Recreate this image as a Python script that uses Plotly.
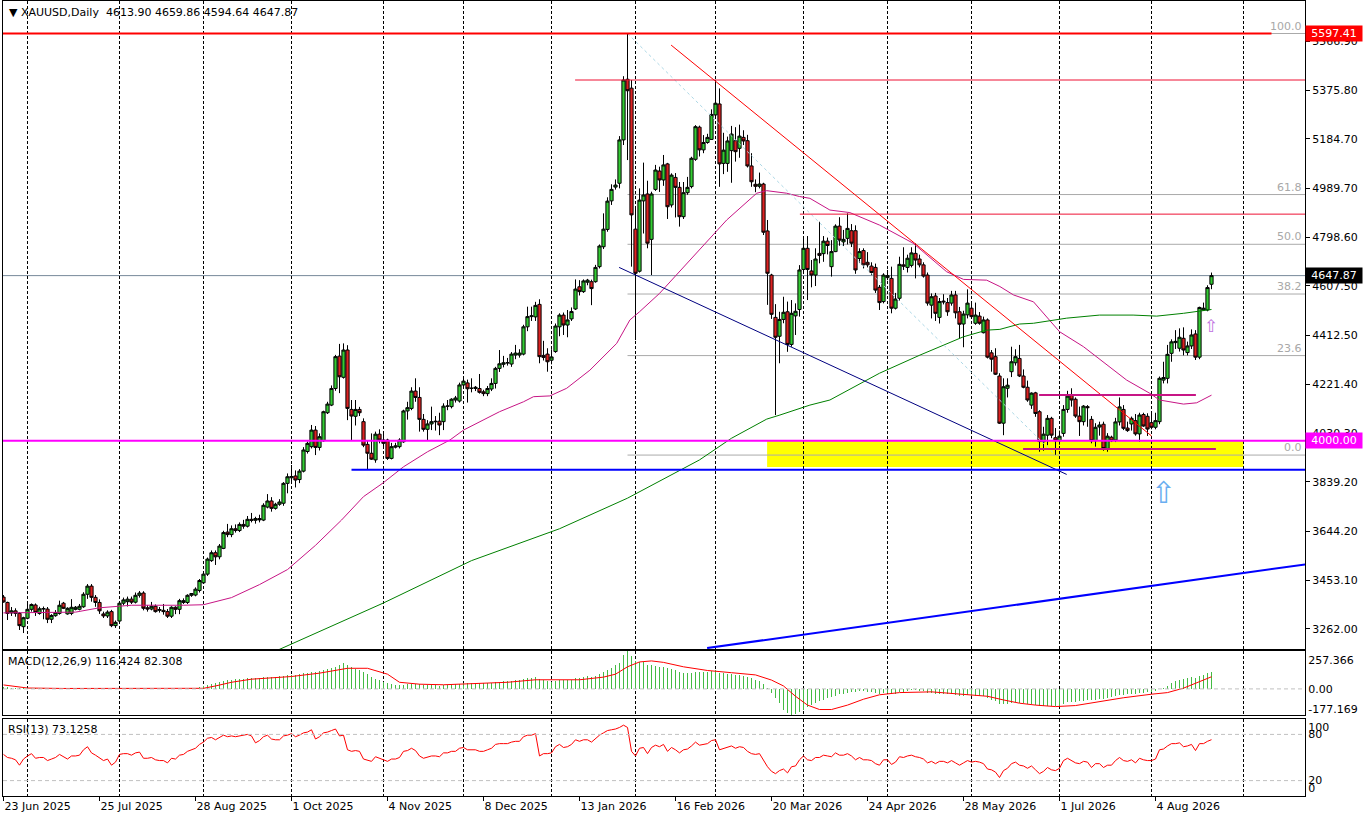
from __future__ import annotations

import plotly.graph_objects as go

# ---------------------------------------------------------------------
# Data: XAUUSD daily bars
# (bar 0 = 23 Jun 2025, one value per trading day)
# ---------------------------------------------------------------------
OPEN = [
    3387, 3366, 3325, 3333, 3323, 3271, 3304, 3339, 3356, 3323,
    3340, 3340, 3300, 3314, 3323, 3363, 3321, 3323, 3339, 3339,
    3349, 3398, 3430, 3386, 3366, 3321, 3313, 3330, 3275, 3293,
    3363, 3369, 3379, 3367, 3394, 3403, 3345, 3340, 3351, 3335,
    3335, 3330, 3312, 3347, 3339, 3366, 3366, 3394, 3395, 3413,
    3443, 3477, 3530, 3561, 3545, 3578, 3642, 3632, 3655, 3648,
    3672, 3665, 3692, 3688, 3695, 3689, 3740, 3764, 3735, 3751,
    3755, 3833, 3855, 3862, 3848, 3881, 3958, 3977, 4042, 3974,
    4000, 4110, 4140, 4205, 4332, 4249, 4356, 4123, 4096, 4123,
    4075, 3986, 3951, 3925, 4026, 4003, 4003, 3931, 3975, 3977,
    3996, 4117, 4127, 4195, 4170, 4084, 4045, 4066, 4077, 4077,
    4075, 4136, 4134, 4160, 4156, 4219, 4227, 4206, 4205, 4205,
    4192, 4185, 4203, 4225, 4284, 4300, 4306, 4301, 4336, 4336,
    4340, 4447, 4487, 4486, 4535, 4335, 4340, 4316, 4350, 4447,
    4493, 4454, 4478, 4517, 4604, 4585, 4622, 4624, 4624, 4683,
    4761, 4829, 4941, 4995, 5010, 5180, 5418, 5383, 4830, 4665,
    4941, 4968, 4790, 4986, 5058, 5023, 5086, 4925, 5033, 4994,
    4879, 4973, 4997, 5104, 5230, 5141, 5170, 5182, 5278, 5321,
    5088, 5088, 5138, 5177, 5147, 5190, 5177, 5078, 5006, 4998,
    5007, 4823, 4650, 4484, 4410, 4476, 4506, 4378, 4490, 4515,
    4672, 4755, 4666, 4650, 4735, 4734, 4783, 4683, 4742, 4842,
    4780, 4794, 4824, 4824, 4715, 4746, 4700, 4685, 4680, 4602,
    4546, 4640, 4637, 4520, 4559, 4690, 4680, 4688, 4735, 4713,
    4690, 4650, 4532, 4568, 4484, 4548, 4542, 4540, 4572, 4506,
    4458, 4494, 4520, 4461, 4489, 4424, 4474, 4345, 4330, 4254,
    4069, 4206, 4271, 4306, 4323, 4254, 4210, 4140, 4188, 4114,
    3996, 4022, 4088, 4012, 4000, 4029, 4123, 4180, 4163, 4097,
    4075, 4134, 4084, 4000, 4054, 4065, 3970, 4014, 4003, 4074,
    4123, 4050, 4066, 4079, 4027, 4103, 4096, 4071, 4053, 4075,
    4238, 4245, 4343, 4385, 4363, 4402, 4346, 4372, 4419, 4328,
    4513, 4513, 4613.90,
]
HIGH = [
    3395, 3369, 3348, 3343, 3328, 3310, 3367, 3362, 3362, 3349,
    3350, 3348, 3320, 3336, 3373, 3368, 3347, 3379, 3352, 3360,
    3406, 3438, 3438, 3395, 3378, 3330, 3335, 3337, 3295, 3369,
    3385, 3389, 3389, 3405, 3411, 3410, 3355, 3368, 3358, 3348,
    3360, 3340, 3351, 3351, 3380, 3382, 3398, 3403, 3425, 3458,
    3489, 3542, 3570, 3570, 3595, 3647, 3674, 3668, 3672, 3680,
    3690, 3705, 3717, 3702, 3710, 3755, 3791, 3779, 3757, 3771,
    3838, 3872, 3905, 3884, 3889, 3975, 3997, 4062, 4058, 4029,
    4118, 4153, 4217, 4337, 4380, 4382, 4375, 4160, 4160, 4133,
    4088, 4003, 4029, 4036, 4045, 4029, 4008, 3992, 3992, 4010,
    4122, 4153, 4210, 4245, 4210, 4105, 4081, 4134, 4097, 4110,
    4147, 4160, 4167, 4176, 4228, 4251, 4240, 4245, 4215, 4262,
    4200, 4215, 4245, 4290, 4356, 4333, 4325, 4348, 4376, 4359,
    4455, 4526, 4526, 4545, 4555, 4392, 4363, 4359, 4460, 4500,
    4503, 4513, 4523, 4633, 4630, 4633, 4635, 4632, 4690, 4770,
    4892, 4955, 5006, 5025, 5195, 5430, 5597.41, 5415, 4915, 4990,
    5091, 5020, 4977, 5082, 5075, 5121, 5090, 5049, 5050, 5015,
    5015, 5035, 5114, 5238, 5236, 5199, 5204, 5300, 5415, 5382,
    5208, 5193, 5235, 5230, 5240, 5218, 5200, 5128, 5025, 5052,
    5012, 4866, 4655, 4536, 4506, 4565, 4546, 4552, 4539, 4689,
    4803, 4803, 4709, 4755, 4859, 4803, 4797, 4787, 4849, 4877,
    4827, 4892, 4850, 4845, 4755, 4755, 4740, 4700, 4695, 4611,
    4657, 4670, 4683, 4580, 4722, 4759, 4730, 4759, 4774, 4730,
    4700, 4660, 4578, 4580, 4560, 4575, 4560, 4588, 4588, 4525,
    4510, 4594, 4546, 4542, 4505, 4487, 4480, 4356, 4363, 4265,
    4245, 4245, 4369, 4359, 4376, 4280, 4236, 4190, 4192, 4120,
    4055, 4101, 4094, 4050, 4040, 4140, 4196, 4206, 4170, 4134,
    4140, 4140, 4097, 4069, 4075, 4075, 4030, 4020, 4090, 4170,
    4140, 4075, 4095, 4105, 4110, 4110, 4108, 4110, 4110, 4252,
    4310, 4376, 4398, 4434, 4441, 4445, 4389, 4437, 4434, 4526,
    4542, 4610, 4659.86,
]
LOW = [
    3365, 3297, 3313, 3310, 3258, 3246, 3300, 3330, 3313, 3318,
    3300, 3285, 3285, 3310, 3318, 3340, 3318, 3316, 3335, 3335,
    3345, 3380, 3369, 3349, 3321, 3305, 3305, 3269, 3266, 3286,
    3355, 3350, 3360, 3362, 3385, 3335, 3330, 3335, 3326, 3326,
    3318, 3305, 3305, 3320, 3320, 3360, 3360, 3388, 3390, 3405,
    3440, 3470, 3525, 3513, 3535, 3575, 3622, 3622, 3640, 3642,
    3655, 3660, 3680, 3675, 3680, 3685, 3735, 3722, 3730, 3745,
    3745, 3794, 3840, 3817, 3834, 3876, 3950, 3970, 3944, 3962,
    3996, 4105, 4136, 4196, 4187, 4244, 4081, 4003, 4060, 4097,
    3975, 3888, 3925, 3914, 3990, 3977, 3925, 3927, 3970, 3970,
    3992, 4083, 4120, 4153, 4036, 4036, 4000, 4042, 4040, 4022,
    4042, 4120, 4127, 4150, 4150, 4205, 4150, 4190, 4195, 4185,
    4175, 4175, 4195, 4205, 4270, 4288, 4295, 4290, 4320, 4326,
    4335, 4430, 4470, 4470, 4304, 4315, 4271, 4300, 4345, 4410,
    4415, 4406, 4470, 4513, 4570, 4580, 4610, 4532, 4620, 4676,
    4752, 4820, 4925, 4985, 4990, 5160, 5101, 4683, 4395, 4660,
    4813, 4755, 4650, 4980, 4976, 5000, 4870, 4915, 4876, 4840,
    4870, 4965, 4990, 5098, 5115, 5128, 5165, 5180, 5272, 4996,
    5046, 5055, 5012, 5095, 5110, 5160, 5072, 4996, 4975, 4990,
    4807, 4533, 4478, 4101, 4304, 4461, 4349, 4369, 4415, 4487,
    4654, 4552, 4602, 4607, 4696, 4702, 4731, 4644, 4740, 4765,
    4764, 4770, 4760, 4655, 4697, 4676, 4680, 4650, 4580, 4513,
    4539, 4630, 4500, 4515, 4550, 4670, 4660, 4680, 4637, 4680,
    4640, 4530, 4480, 4470, 4460, 4535, 4490, 4530, 4480, 4402,
    4367, 4480, 4480, 4455, 4455, 4421, 4323, 4271, 4258, 4066,
    4022, 4170, 4250, 4295, 4250, 4206, 4153, 4125, 4094, 3957,
    3961, 3983, 4010, 3944, 3985, 4016, 4110, 4134, 4090, 4019,
    4060, 4055, 3990, 3977, 4020, 3961, 3957, 3995, 3995, 4060,
    4042, 4035, 4040, 4020, 3996, 4055, 4019, 4045, 4045, 4065,
    4225, 4225, 4310, 4360, 4350, 4335, 4335, 4360, 4317, 4320,
    4510, 4508, 4594.64,
]
CLOSE = [
    3368, 3323, 3333, 3323, 3275, 3306, 3339, 3358, 3327, 3341,
    3342, 3300, 3315, 3326, 3355, 3343, 3343, 3347, 3347, 3351,
    3398, 3430, 3386, 3366, 3333, 3313, 3328, 3275, 3288, 3363,
    3376, 3379, 3367, 3394, 3403, 3343, 3340, 3351, 3330, 3338,
    3330, 3312, 3347, 3339, 3373, 3373, 3394, 3401, 3418, 3452,
    3477, 3536, 3561, 3545, 3587, 3640, 3632, 3655, 3648, 3672,
    3665, 3692, 3688, 3695, 3690, 3747, 3764, 3735, 3751, 3760,
    3833, 3859, 3860, 3846, 3881, 3964, 3990, 4042, 3974, 4016,
    4114, 4144, 4205, 4330, 4251, 4356, 4127, 4097, 4123, 4110,
    3983, 3951, 3928, 4026, 4003, 3990, 3931, 3977, 3980, 4003,
    4117, 4130, 4195, 4170, 4084, 4045, 4066, 4075, 4075, 4062,
    4136, 4136, 4163, 4168, 4219, 4234, 4204, 4206, 4210, 4190,
    4185, 4205, 4225, 4284, 4302, 4306, 4306, 4340, 4344, 4344,
    4447, 4487, 4490, 4531, 4330, 4327, 4310, 4329, 4450, 4493,
    4454, 4474, 4507, 4595, 4585, 4627, 4630, 4597, 4680, 4764,
    4830, 4940, 4986, 5003, 5180, 5415, 5373, 4886, 4657, 4944,
    4964, 4775, 4968, 5062, 5023, 5082, 4918, 5042, 4994, 4879,
    4973, 4994, 5108, 5232, 5141, 5170, 5190, 5280, 5324, 5086,
    5140, 5176, 5203, 5134, 5195, 5176, 5078, 5016, 4998, 5007,
    4818, 4657, 4496, 4406, 4476, 4504, 4378, 4500, 4508, 4670,
    4755, 4672, 4650, 4713, 4727, 4783, 4766, 4742, 4842, 4787,
    4790, 4833, 4775, 4670, 4742, 4690, 4690, 4660, 4591, 4542,
    4650, 4648, 4520, 4556, 4692, 4685, 4716, 4737, 4709, 4690,
    4646, 4540, 4565, 4500, 4546, 4545, 4506, 4572, 4502, 4457,
    4497, 4540, 4487, 4493, 4461, 4474, 4328, 4320, 4261, 4069,
    4212, 4218, 4310, 4330, 4254, 4210, 4160, 4187, 4107, 3997,
    4026, 4088, 4022, 4000, 4018, 4123, 4175, 4160, 4097, 4075,
    4136, 4130, 4000, 4053, 4062, 3970, 4018, 4000, 4074, 4133,
    4049, 4040, 4088, 4027, 4101, 4058, 4046, 4053, 4079, 4245,
    4248, 4339, 4388, 4390, 4406, 4356, 4372, 4415, 4328, 4523,
    4520, 4601, 4647.87,
]

# moving averages, sampled along the drawn lines (bar index, price)
MA50_BARS = [0, 10, 18, 24, 32, 45, 50, 57, 64, 71, 78, 84.5, 90, 95, 100,
             106, 111.6, 115, 120, 124, 130, 132.5, 136.6, 140.8, 146.6,
             153.3, 156.6, 159, 164, 172.4, 180.8, 188.3, 190.8, 195.8, 199,
             201.6, 206.6, 211.6, 219, 227.4, 235.8, 240, 245.8, 249.1,
             252.5, 257.5, 264, 270, 274, 280.8, 286.6, 289, 295, 298.3, 302]
MA50_VALUES = [3325, 3327, 3328, 3345, 3355, 3355, 3357, 3385, 3436, 3495,
               3590, 3689, 3781, 3836, 3898, 3957, 4003, 4042, 4081, 4114,
               4153, 4173, 4176, 4206, 4277, 4382, 4474, 4506, 4578, 4722,
               4866, 4971, 4981, 4971, 4958, 4951, 4905, 4895, 4846, 4775,
               4663, 4633, 4630, 4605, 4572, 4545, 4428, 4369, 4320, 4238,
               4186, 4160, 4144, 4149, 4179]
MA200_BARS = [68, 95, 117, 139, 156, 174, 182, 190.8, 194.1, 201.6, 206.6,
              219, 229.1, 240, 245.8, 249.1, 254, 257.5, 265.8, 274, 282.4,
              288.3, 295, 302]
MA200_VALUES = [3175, 3364, 3530, 3655, 3775, 3925, 4010, 4085, 4101, 4140,
                4160, 4265, 4336, 4408, 4434, 4437, 4458, 4461, 4481, 4493,
                4493, 4489, 4500, 4515]

# MACD(12,26,9): histogram one value per bar, signal sampled along the line
MACD_HIST = [
    12, 10, 8, 7, 4, 3, 3, 4, 3, 3,
    3, 2, 1, 1, 2, 2, 2, 2, 3, 3,
    5, 8, 8, 6, 4, 2, 1, -2, -3, 0,
    2, 3, 4, 4, 5, 3, 2, 1, 0, -1,
    -1, -2, -1, 0, 1, 2, 4, 5, 7, 12,
    18, 26, 34, 40, 47, 55, 59, 62, 64, 66,
    68, 71, 73, 75, 77, 80, 82, 83, 84, 85,
    88, 92, 95, 97, 100, 105, 110, 116, 118, 120,
    127, 133, 140, 150, 163, 177, 165, 150, 138, 125,
    113, 98, 80, 68, 58, 48, 40, 33, 28, 26,
    28, 30, 34, 36, 33, 28, 26, 25, 24, 23,
    26, 28, 30, 32, 36, 40, 40, 40, 40, 38,
    37, 38, 40, 45, 50, 52, 53, 56, 58, 59,
    66, 73, 77, 82, 70, 60, 52, 48, 55, 60,
    60, 61, 63, 72, 77, 82, 85, 84, 90, 100,
    115, 130, 145, 160, 178, 230, 257.366, 225, 190, 185,
    180, 162, 160, 158, 152, 150, 140, 133, 125, 115,
    110, 105, 108, 115, 115, 113, 114, 120, 125, 110,
    105, 102, 100, 95, 93, 90, 82, 72, 62, 55,
    35, 5, -30, -65, -95, -140, -165, -177.169, -172, -160,
    -140, -125, -112, -98, -85, -72, -62, -55, -45, -38,
    -32, -25, -22, -20, -17, -17, -18, -20, -26, -32,
    -30, -28, -33, -32, -22, -18, -14, -10, -10, -12,
    -16, -26, -30, -35, -36, -36, -38, -36, -40, -46,
    -48, -44, -45, -45, -47, -50, -62, -72, -82, -100,
    -100, -100, -95, -92, -95, -98, -103, -103, -108, -118,
    -118, -113, -113, -115, -113, -103, -92, -86, -86, -85,
    -80, -77, -78, -72, -66, -66, -60, -56, -48, -40,
    -40, -38, -33, -33, -27, -25, -23, -18, -14, -3,
    5, 22, 40, 55, 62, 66, 72, 78, 75, 90,
    95, 105, 116.424,
]
SIGNAL_BARS = [0, 6, 15, 25, 35, 47, 50, 53, 57, 62, 66, 72, 79, 86, 91, 96,
               99, 104, 110, 118, 126, 133, 138, 144, 150, 153, 156, 159,
               162, 165, 170, 176, 182, 188, 192, 195, 198, 201, 204, 207,
               211, 215, 219, 224, 232, 240, 246, 250, 254, 258, 263, 268,
               274, 280, 287, 291, 295, 299, 302]
SIGNAL_VALUES = [27, 6, 3, 4, 3, 1, 4, 20, 45, 66, 72, 84, 107, 140, 140, 100,
                 45, 32, 28, 35, 45, 62, 63, 62, 80, 100, 150, 183,
                 190, 180, 150, 125, 110, 95, 60, 20, -50, -110, -140, -140,
                 -110, -70, -40, -25, -20, -35, -50, -75, -97, -110, -120, -113,
                 -85, -60, -36, -25, 5, 50, 82.308]

# RSI(13), one value per bar
RSI = [
    54, 50, 49, 47, 40, 48, 52, 55, 49, 50,
    50, 46, 48, 50, 54, 51, 48, 52, 52, 53,
    60, 64, 56, 53, 49, 46, 48, 40, 44, 54,
    55, 55, 53, 56, 57, 49, 49, 50, 47, 46,
    46, 43, 49, 48, 53, 54, 58, 60, 62, 67,
    70, 75, 76, 73, 76, 79, 77, 78, 77, 78,
    79, 80, 78, 69, 72, 77, 79, 74, 73, 73,
    78, 79, 81, 77, 79, 82, 83, 86, 74, 77,
    82, 83, 85, 87, 78, 79, 60, 58, 59, 58,
    48, 46, 45, 51, 49, 48, 45, 48, 48, 50,
    58, 59, 62, 59, 52, 49, 51, 52, 52, 51,
    56, 56, 58, 58, 62, 63, 60, 60, 60, 58,
    58, 60, 62, 67, 68, 68, 68, 70, 71, 71,
    77, 79, 79, 81, 52, 55, 55, 56, 64, 67,
    63, 64, 67, 73, 71, 73, 73, 70, 75, 79,
    82, 85, 86, 87, 89, 92, 89, 58, 52, 62,
    63, 55, 63, 66, 64, 67, 58, 63, 60, 56,
    60, 61, 65, 70, 66, 67, 68, 72, 73, 60,
    62, 64, 65, 62, 64, 63, 58, 55, 54, 55,
    47, 38, 32, 29, 33, 35, 30, 38, 39, 47,
    52, 47, 46, 50, 50, 53, 52, 51, 56, 53,
    53, 55, 52, 47, 50, 47, 47, 46, 42, 40,
    47, 47, 41, 44, 51, 50, 52, 53, 51, 50,
    48, 43, 45, 42, 45, 45, 43, 46, 43, 40,
    43, 46, 44, 45, 44, 42, 35, 34, 31, 24,
    33, 36, 42, 44, 40, 39, 36, 39, 34, 29,
    32, 37, 34, 33, 36, 46, 49, 46, 43, 42,
    45, 44, 37, 42, 42, 37, 40, 40, 46, 50,
    46, 45, 47, 43, 49, 47, 46, 46, 48, 60,
    61, 65, 68, 68, 69, 64, 65, 67, 59, 68,
    68, 71, 73.1258,
]

# axis ticks
DATE_TICK_BARS = [0, 24, 48, 72, 96, 120, 144, 168, 192, 216, 240, 264, 288]
DATE_TICK_LABELS = ["23 Jun 2025", "25 Jul 2025", "28 Aug 2025", "1 Oct 2025",
                    "4 Nov 2025", "8 Dec 2025", "13 Jan 2026", "16 Feb 2026",
                    "20 Mar 2026", "24 Apr 2026", "28 May 2026", "1 Jul 2026",
                    "4 Aug 2026"]
MONTH_GRID_BARS = [6, 29, 50, 72, 95, 115, 137, 158, 178, 200, 221, 242, 264,
                   287, 310]
PRICE_TICKS = [5566.90, 5375.80, 5184.70, 4989.70, 4798.60, 4607.50, 4412.50,
               4221.40, 4030.30, 3839.20, 3644.20, 3453.10, 3262.00]

# analyst objects drawn on the chart
FIB_HIGH, FIB_LOW = 5597.41, 3944.0
FIB_BARS = [156, 263]
FIB_LEVELS = [100.0, 61.8, 50.0, 38.2, 23.6, 0.0]
DOWN_TREND_BARS, DOWN_TREND_PRICES = [166.9, 287.0], [5552.0, 4019.0]
CHANNEL_BARS, CHANNEL_PRICES = [153.9, 265.8], [4680.0, 3868.0]
UP_TREND_BARS, UP_TREND_PRICES = [175.9, 325.4], [3187.0, 3515.0]
RESISTANCE_PRICES, RESISTANCE_START_BARS = [5415.0, 4889.0], [142.9, 199.1]
SUPPORT_PRICE, SUPPORT_START_BAR = 3886.0, 87
ROUND_LEVEL = 4000.0
ZONE_BARS, ZONE_PRICES = [190.9, 310], [3897.0, 4000.0]
RANGE_TOP = (4180.0, 258.9, 298.1)
RANGE_BOTTOM = (3968.0, 254.9, 303.1)
TOP_LINE_END_BAR = 317
LAST_PRICE = 4647.87

# ---------------------------------------------------------------------
# Style
# ---------------------------------------------------------------------
WIDTH, HEIGHT = 1370, 820
FONT = "DejaVu Sans"
UP_COLOR, DOWN_COLOR = "#33CC33", "#DD2222"
X_RANGE = [-0.125, 325.375]
PRICE_RANGE = [3183.4, 5724.9]
MACD_RANGE = [-177.169, 257.366]
RSI_RANGE = [0, 100]
PRICE_DOMAIN = [0.18491, 1.0]
MACD_DOMAIN = [0.10189, 0.18239]
RSI_DOMAIN = [0.0, 0.09686]
GRID_DASH = "3px,2px"
# the page is photographed from its top-left corner: drop the default body margin
PAGE_SCRIPT = "document.body.style.margin = '0px';"


def _hline(y, x0, x1, color, width=1, dash="solid", yref="y", layer="above"):
    return dict(type="line", xref="x", yref=yref, x0=x0, x1=x1, y0=y, y1=y,
                line=dict(color=color, width=width, dash=dash), layer=layer)


def _price_tag(text, price, bg):
    return dict(xref="paper", x=1, xanchor="left", yref="y", y=price,
                yanchor="middle", text=text, showarrow=False, bgcolor=bg,
                borderpad=1, width=54, align="center",
                font=dict(family=FONT, size=11, color="white"))


def build_figure() -> go.Figure:
    bars = list(range(len(CLOSE)))
    x_right = X_RANGE[1]
    fig = go.Figure()

    # --- price panel -------------------------------------------------
    fig.add_trace(go.Candlestick(
        x=bars, open=OPEN, high=HIGH, low=LOW, close=CLOSE,
        increasing=dict(fillcolor=UP_COLOR, line=dict(color="black", width=1)),
        decreasing=dict(fillcolor=DOWN_COLOR, line=dict(color="black", width=1)),
        showlegend=False, hoverinfo="skip", xaxis="x", yaxis="y",
    ))
    fig.add_trace(go.Scatter(x=MA50_BARS, y=MA50_VALUES, mode="lines",
                             line=dict(color="#C71585", width=1),
                             showlegend=False, hoverinfo="skip"))
    fig.add_trace(go.Scatter(x=MA200_BARS, y=MA200_VALUES, mode="lines",
                             line=dict(color="#008000", width=1),
                             showlegend=False, hoverinfo="skip"))
    fig.add_trace(go.Scatter(x=FIB_BARS, y=[FIB_HIGH, FIB_LOW], mode="lines",
                             line=dict(color="#ADD8E6", width=1, dash="dot"),
                             showlegend=False, hoverinfo="skip"))
    fig.add_trace(go.Scatter(x=DOWN_TREND_BARS, y=DOWN_TREND_PRICES, mode="lines",
                             line=dict(color="#FF0000", width=1),
                             showlegend=False, hoverinfo="skip"))
    fig.add_trace(go.Scatter(x=CHANNEL_BARS, y=CHANNEL_PRICES, mode="lines",
                             line=dict(color="#000080", width=1),
                             showlegend=False, hoverinfo="skip"))
    fig.add_trace(go.Scatter(x=UP_TREND_BARS, y=UP_TREND_PRICES, mode="lines",
                             line=dict(color="#0000FF", width=2),
                             showlegend=False, hoverinfo="skip"))

    # --- MACD panel --------------------------------------------------
    fig.add_trace(go.Bar(x=bars, y=MACD_HIST, width=0.25, marker_color="#44BB44",
                         marker_line_width=0, showlegend=False,
                         hoverinfo="skip", xaxis="x2", yaxis="y2"))
    fig.add_trace(go.Scatter(x=SIGNAL_BARS, y=SIGNAL_VALUES, mode="lines",
                             line=dict(color="#FF0000", width=1),
                             showlegend=False, hoverinfo="skip",
                             xaxis="x2", yaxis="y2"))

    # --- RSI panel ---------------------------------------------------
    fig.add_trace(go.Scatter(x=bars, y=RSI, mode="lines",
                             line=dict(color="#FF0000", width=1),
                             showlegend=False, hoverinfo="skip",
                             xaxis="x3", yaxis="y3"))

    # --- chart objects -----------------------------------------------
    shapes = [
        dict(type="rect", xref="x", yref="y", x0=ZONE_BARS[0], x1=ZONE_BARS[1],
             y0=ZONE_PRICES[0], y1=ZONE_PRICES[1], fillcolor="#FFFF00",
             line=dict(width=0), layer="below"),
    ]
    fib_span = FIB_HIGH - FIB_LOW
    for lvl in FIB_LEVELS:
        shapes.append(_hline(FIB_LOW + fib_span * lvl / 100.0, FIB_BARS[0],
                             x_right, "#AAAAAA", layer="below"))
    shapes.append(_hline(LAST_PRICE, X_RANGE[0], x_right, "#778899", layer="below"))
    shapes.append(_hline(FIB_HIGH, X_RANGE[0], TOP_LINE_END_BAR, "#FF0000", width=2))
    for price, start in zip(RESISTANCE_PRICES, RESISTANCE_START_BARS):
        shapes.append(_hline(price, start, x_right, "#EE1133"))
    shapes.append(_hline(ROUND_LEVEL, X_RANGE[0], x_right, "#FF00FF", width=2))
    shapes.append(_hline(SUPPORT_PRICE, SUPPORT_START_BAR, x_right, "#0000FF", width=2))
    for price, x0, x1 in (RANGE_TOP, RANGE_BOTTOM):
        shapes.append(_hline(price, x0, x1, "#C71585", width=2))
    # indicator reference levels
    shapes.append(_hline(0, X_RANGE[0], x_right, "#C0C0C0", dash="4px,3px",
                         yref="y2"))
    for lvl in (80, 20):
        shapes.append(_hline(lvl, X_RANGE[0], x_right, "#C0C0C0",
                             dash="4px,3px", yref="y3"))

    annotations = [
        dict(xref="paper", yref="paper", x=0, y=1, xanchor="left", yanchor="top",
             xshift=4, yshift=-3, showarrow=False,
             text="\u25bc XAUUSD,Daily\u00a0\u00a04613.90 4659.86 4594.64 4647.87",
             font=dict(family=FONT, size=11, color="black")),
        dict(xref="paper", yref="paper", x=0, y=MACD_DOMAIN[1], xanchor="left",
             yanchor="top", xshift=3, yshift=-2, showarrow=False,
             text="MACD(12,26,9) 116.424 82.308",
             font=dict(family=FONT, size=11, color="black")),
        dict(xref="paper", yref="paper", x=0, y=RSI_DOMAIN[1], xanchor="left",
             yanchor="top", xshift=3, yshift=-2, showarrow=False,
             text="RSI(13) 73.1258",
             font=dict(family=FONT, size=11, color="black")),
        # signal arrows
        dict(xref="x", yref="y", x=289.9, y=3799, showarrow=False, text="\u21e7",
             font=dict(family=FONT, size=30, color="#6AAEF0")),
        dict(xref="x", yref="y", x=301.9, y=4449, showarrow=False, text="\u21e7",
             font=dict(family=FONT, size=17, color="#C070E0")),
    ]
    for lvl in FIB_LEVELS:
        annotations.append(dict(
            xref="paper", x=1, xanchor="right", xshift=-1, yref="y",
            y=FIB_LOW + fib_span * lvl / 100.0, yanchor="bottom", yshift=-1,
            text=f"{lvl:.1f}", showarrow=False,
            font=dict(family=FONT, size=11, color="#A8A8A8")))
    annotations += [
        _price_tag("5597.41", FIB_HIGH, "#FF0000"),
        _price_tag(f"{LAST_PRICE:.2f}", LAST_PRICE, "#000000"),
        _price_tag(f"{ROUND_LEVEL:.2f}", ROUND_LEVEL, "#FF00FF"),
    ]

    # --- axes --------------------------------------------------------
    frame = dict(showline=True, linecolor="black", linewidth=1, mirror=True,
                 zeroline=False, fixedrange=True, automargin=False)
    grid_x = dict(range=X_RANGE, tickmode="array", tickvals=MONTH_GRID_BARS,
                  showticklabels=False, ticks="", showgrid=True,
                  gridcolor="black", gridwidth=1, griddash=GRID_DASH, **frame)
    tickfont = dict(family=FONT, size=11, color="black")

    fig.update_layout(
        template="none",
        width=WIDTH, height=HEIGHT,
        margin=dict(l=3, r=65, t=1, b=24, autoexpand=False),
        paper_bgcolor="white", plot_bgcolor="white",
        font=dict(family=FONT, size=11, color="black"),
        showlegend=False, hovermode=False, dragmode=False,
        boxgap=0.2, boxgroupgap=0, bargap=0,
        xaxis=dict(domain=[0, 1], anchor="y", rangeslider=dict(visible=False),
                   **grid_x),
        xaxis2=dict(domain=[0, 1], anchor="y2", matches="x", **grid_x),
        xaxis3=dict(domain=[0, 1], anchor="y3", matches="x", range=X_RANGE,
                    tickmode="array", tickvals=DATE_TICK_BARS,
                    ticktext=DATE_TICK_LABELS, ticks="outside", ticklen=4,
                    tickcolor="black", ticklabelposition="outside right",
                    tickfont=tickfont, showgrid=False,
                    minor=dict(tickmode="array", tickvals=MONTH_GRID_BARS,
                               showgrid=True, gridcolor="black", gridwidth=1,
                               griddash=GRID_DASH, ticks=""),
                    **frame),
        yaxis=dict(domain=PRICE_DOMAIN, anchor="x", side="right",
                   range=PRICE_RANGE, tickmode="array", tickvals=PRICE_TICKS,
                   ticktext=[f"{v:.2f}" for v in PRICE_TICKS], ticks="outside",
                   ticklen=4, tickcolor="black", tickfont=tickfont,
                   showgrid=False, **frame),
        yaxis2=dict(domain=MACD_DOMAIN, anchor="x2", side="right",
                    range=MACD_RANGE, tickmode="array",
                    tickvals=[196, 0, -136],
                    ticktext=["257.366", "0.00", "-177.169"], ticks="",
                    tickfont=tickfont, showgrid=False, **frame),
        yaxis3=dict(domain=RSI_DOMAIN, anchor="x3", side="right",
                    range=RSI_RANGE, tickmode="array",
                    tickvals=[89.2, 80, 20, 10],
                    ticktext=["100", "80", "20", "0"], ticks="",
                    tickfont=tickfont, showgrid=False, **frame),
        shapes=shapes,
        annotations=annotations,
    )
    return fig


if __name__ == "__main__":
    fig = build_figure()
    fig.write_html("out.html", post_script=PAGE_SCRIPT,
                   config={"displayModeBar": False, "staticPlot": True})
